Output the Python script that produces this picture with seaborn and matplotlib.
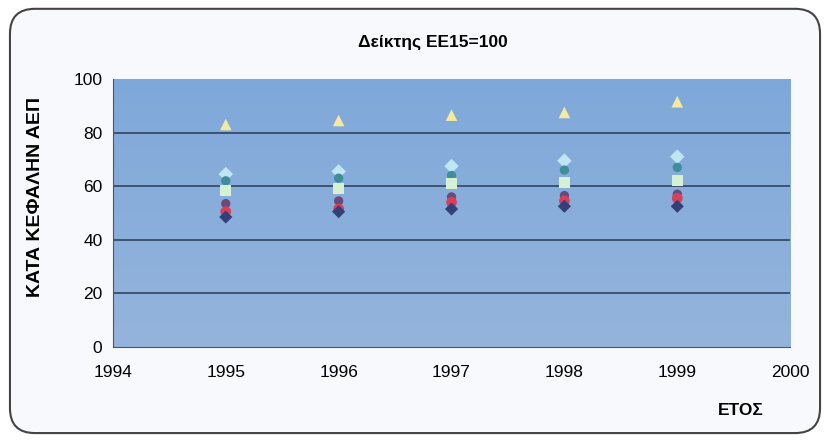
import numpy as np
import pandas as pd
import matplotlib.pyplot as plt
import seaborn as sns
from matplotlib.patches import FancyBboxPatch
from matplotlib.colors import LinearSegmentedColormap

# data (index EU15 = 100)
years = [1995, 1996, 1997, 1998, 1999]
s_triangle = [83.0, 84.5, 86.5, 87.5, 91.5]
s_diamond = [64.5, 65.5, 67.5, 69.5, 71.0]
s_teal = [62.0, 63.0, 64.0, 66.0, 67.0]
s_square = [58.5, 59.0, 61.0, 61.5, 62.0]
s_purple = [53.5, 54.5, 56.0, 56.5, 57.0]
s_red = [50.5, 51.5, 54.0, 54.5, 55.5]
s_navy = [48.5, 50.5, 51.5, 52.5, 52.5]

series = {
    'A': s_triangle,
    'B': s_diamond,
    'C': s_teal,
    'D': s_square,
    'E': s_purple,
    'F': s_red,
    'G': s_navy,
}
colors = {'A': '#f3e9a0', 'B': '#bfe6f2', 'C': '#3f8f9a', 'D': '#d6f0d4',
          'E': '#6a4a7a', 'F': '#d8405a', 'G': '#34407a'}
markers = {'A': '^', 'B': 'D', 'C': 'o', 'D': 's', 'E': 'o', 'F': 'o', 'G': 'D'}
sizes = {'A': 70, 'B': 55, 'C': 45, 'D': 65, 'E': 45, 'F': 60, 'G': 45}

rows = []
for name, vals in series.items():
    for y, v in zip(years, vals):
        rows.append({'year': y, 'value': v, 'series': name})
df = pd.DataFrame(rows)

sns.set_style("white")
plt.rcParams['font.family'] = ['Liberation Sans', 'DejaVu Sans']

fig = plt.figure(figsize=(8.3, 4.41), dpi=100)
fig.patch.set_facecolor('white')

# rounded frame around the chart
frame = FancyBboxPatch((0.012, 0.018), 0.976, 0.962, boxstyle="round,pad=0,rounding_size=0.03",
                       transform=fig.transFigure, facecolor='#f7f9fc', edgecolor='#444444',
                       linewidth=1.5, mutation_aspect=830/441, zorder=-5)
fig.patches.append(frame)

ax = fig.add_axes([0.136, 0.213, 0.816, 0.608])
ax.set_zorder(2)
ax.patch.set_alpha(0)

# blue gradient plot background
grad = np.linspace(0, 1, 100).reshape(-1, 1)
cmap = LinearSegmentedColormap.from_list('bg', ['#7fa8da', '#94b4dc'])
ax.imshow(grad, extent=[1994, 2000, 0, 100], aspect='auto', cmap=cmap, origin='upper', zorder=0)

for y in [20, 40, 60, 80]:
    ax.axhline(y, color='#2f4560', linewidth=1.2, zorder=1)

for name in series:
    sub = df[df['series'] == name]
    sns.scatterplot(data=sub, x='year', y='value', ax=ax, marker=markers[name],
                    color=colors[name], s=sizes[name], edgecolor='none', zorder=3,
                    legend=False)

ax.set_xlim(1994, 2000)
ax.set_ylim(0, 100)
ax.set_xticks([1994, 1995, 1996, 1997, 1998, 1999, 2000])
ax.set_yticks([0, 20, 40, 60, 80, 100])
ax.tick_params(axis='both', labelsize=12.5, length=4, direction='out', color='#555555',
               labelcolor='black')
ax.tick_params(axis='x', pad=9)
ax.set_xlabel('')
ax.set_ylabel('ΚΑΤΑ ΚΕΦΑΛΗΝ ΑΕΠ', fontsize=14, fontweight='bold', color='black')
ax.yaxis.set_label_coords(-0.102, 0.56)
for s in ['top', 'right']:
    ax.spines[s].set_visible(False)
ax.spines['left'].set_color('#555555')
ax.spines['bottom'].set_color('#555555')

fig.text(0.522, 0.905, 'Δείκτης ΕΕ15=100', ha='center', va='center', fontsize=12.5,
         fontweight='bold', color='black')
fig.text(0.893, 0.07, 'ΕΤΟΣ', ha='center', va='center', fontsize=12.5, fontweight='bold',
         color='black')

plt.savefig('out.png', dpi=100)
